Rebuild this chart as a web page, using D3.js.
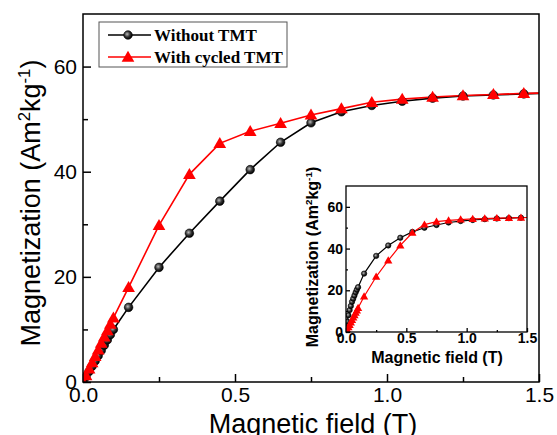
<!DOCTYPE html>
<html><head><meta charset="utf-8">
<script src="https://cdn.jsdelivr.net/npm/d3@7"></script>
<style>html,body{margin:0;padding:0;background:#fff;}svg{display:block;}</style>
</head><body>
<svg id="c" width="557" height="435"></svg>
<script>
// ---------- data ----------
const fieldMain = [0,0.01,0.02,0.03,0.04,0.05,0.06,0.07,0.08,0.09,0.1,0.15,0.25,0.35,0.45,0.55,0.65,0.75,0.85,0.95,1.05,1.15,1.25,1.35,1.45,1.55];
const withoutTMT = [0,1.0,2.0,3.0,4.0,5.0,6.0,7.0,8.0,9.0,10.0,14.2,21.8,28.3,34.4,40.4,45.6,49.3,51.4,52.6,53.4,54.0,54.4,54.6,54.8,55.0];
const withCycledTMT = [0,1.2,2.5,3.7,4.9,6.1,7.4,8.6,9.8,11.0,12.2,18.0,29.8,39.5,45.4,47.7,49.2,50.8,52.0,53.2,53.8,54.2,54.5,54.7,54.9,55.0];
const insetBlack = [0,5,8,10.5,12.5,14.5,16,17.5,19,20.3,21.5,28,36.5,41.5,45.2,48,50,51.3,52.5,53.2,53.7,54.1,54.4,54.6,54.8,55.0];
const insetRed = [0,1.1,2.3,3.4,4.6,5.7,6.9,8.0,9.2,10.3,11.5,17,26.5,34.3,41.5,47.6,51.5,52.9,53.5,53.9,54.2,54.4,54.6,54.7,54.8,55.0];
const xTicks = [0,0.5,1.0,1.5];
const xMinor = [0.25,0.75,1.25];
const yTicks = [0,20,40,60];
const yMinor = [10,30,50];
const legendLabels = ["Without TMT","With cycled TMT"];

const svg = d3.select("#c");
const defs = svg.append("defs");
const grad = defs.append("radialGradient").attr("id","ball").attr("cx","40%").attr("cy","40%").attr("r","60%");
grad.append("stop").attr("offset","0%").attr("stop-color","#bbbbbb");
grad.append("stop").attr("offset","55%").attr("stop-color","#333");
grad.append("stop").attr("offset","100%").attr("stop-color","#000");

function panel(cfg){
  const x = d3.scaleLinear().domain([0,1.5]).range([cfg.x0,cfg.x1]);
  const y = d3.scaleLinear().domain([0,70]).range([cfg.y0,cfg.y1]);
  const g = svg.append("g");
  const cid = "clip"+cfg.id;
  defs.append("clipPath").attr("id",cid).append("rect")
    .attr("x",cfg.x0).attr("y",cfg.y1).attr("width",cfg.x1-cfg.x0).attr("height",cfg.y0-cfg.y1);
  if(cfg.bg) g.append("rect").attr("x",cfg.x0).attr("y",cfg.y1).attr("width",cfg.x1-cfg.x0).attr("height",cfg.y0-cfg.y1).attr("fill","#fff");
  // axes
  const ax = g.append("g").attr("transform",`translate(0,${cfg.y0})`)
    .call(d3.axisBottom(x).tickValues(xTicks).tickFormat(d3.format(".1f")).tickSizeInner(-cfg.tk).tickSizeOuter(0).tickPadding(cfg.xpad));
  const axm = g.append("g").attr("transform",`translate(0,${cfg.y0})`)
    .call(d3.axisBottom(x).tickValues(xMinor).tickFormat("").tickSizeInner(-cfg.tkm).tickSizeOuter(0));
  const ay = g.append("g").attr("transform",`translate(${cfg.x0},0)`)
    .call(d3.axisLeft(y).tickValues(yTicks).tickFormat(d3.format("d")).tickSizeInner(-cfg.tk).tickSizeOuter(0).tickPadding(cfg.ypad));
  const aym = g.append("g").attr("transform",`translate(${cfg.x0},0)`)
    .call(d3.axisLeft(y).tickValues(yMinor).tickFormat("").tickSizeInner(-cfg.tkm).tickSizeOuter(0));
  [ax,axm,ay,aym].forEach(a=>{
    a.select(".domain").remove();
    a.selectAll("line").attr("stroke","#000").attr("stroke-width",cfg.sw);
    a.selectAll("text").attr("fill","#000").attr("font-family","Liberation Sans, Arial, sans-serif")
      .attr("font-size",cfg.fs).attr("font-weight",cfg.fw);
  });
  // lines
  const line = d3.line().x((d,i)=>x(fieldMain[i])).y(d=>y(d));
  const dg = g.append("g").attr("clip-path",`url(#${cid})`);
  cfg.series.forEach(s=>{
    dg.append("path").datum(s.vals).attr("d",line).attr("fill","none").attr("stroke",s.color).attr("stroke-width",cfg.lw);
  });
  cfg.series.forEach(s=>{
    if(s.shape==="circle"){
      dg.selectAll(null).data(s.vals).enter().append("circle")
        .attr("cx",(d,i)=>x(fieldMain[i])).attr("cy",d=>y(d)).attr("r",cfg.r)
        .attr("fill","url(#ball)").attr("stroke","#000").attr("stroke-width",0.6);
    } else {
      const sym = d3.symbol().type(d3.symbolTriangle).size(cfg.tri);
      dg.selectAll(null).data(s.vals).enter().append("path")
        .attr("d",sym).attr("transform",(d,i)=>`translate(${x(fieldMain[i])},${y(d)+cfg.triOff})`)
        .attr("fill","#ff0000");
    }
  });
  // frame
  g.append("rect").attr("x",cfg.x0).attr("y",cfg.y1).attr("width",cfg.x1-cfg.x0).attr("height",cfg.y0-cfg.y1)
    .attr("fill","none").attr("stroke","#000").attr("stroke-width",cfg.sw);
  // titles
  g.append("text").attr("x",cfg.xtx).attr("y",cfg.xty).attr("text-anchor","middle")
    .attr("font-family","Liberation Sans, Arial, sans-serif").attr("font-size",cfg.tfs).attr("font-weight",cfg.fw)
    .text("Magnetic field (T)");
  const yt = g.append("text").attr("transform",`translate(${cfg.ytx},${cfg.yty}) rotate(-90)`).attr("text-anchor","middle")
    .attr("font-family","Liberation Sans, Arial, sans-serif").attr("font-size",cfg.tfs).attr("font-weight",cfg.fw);
  yt.append("tspan").text("Magnetization (Am");
  yt.append("tspan").attr("dy",-cfg.tfs*0.38).attr("font-size",cfg.tfs*0.62).text("2");
  yt.append("tspan").attr("dy",cfg.tfs*0.38).text("kg");
  yt.append("tspan").attr("dy",-cfg.tfs*0.38).attr("font-size",cfg.tfs*0.62).text("-1");
  yt.append("tspan").attr("dy",cfg.tfs*0.38).text(")");
  return g;
}

panel({id:"m",x0:83,x1:539,y0:382,y1:14,tk:8,tkm:5,sw:1.5,fs:21,fw:"normal",xpad:5,ypad:6,
  lw:1.6,r:4.3,tri:70,triOff:1,tfs:27,xtx:313,xty:433,ytx:40,yty:203,
  series:[{vals:withoutTMT,color:"#000",shape:"circle"},{vals:withCycledTMT,color:"#ff0000",shape:"tri"}]});

panel({id:"i",x0:346,x1:527,y0:332,y1:186,tk:4,tkm:2,sw:1.3,fs:14,fw:"bold",xpad:1,ypad:3,bg:true,
  lw:1.2,r:2.7,tri:30,triOff:0.6,tfs:16,xtx:437,xty:363,ytx:318,yty:257,
  series:[{vals:insetBlack,color:"#000",shape:"circle"},{vals:insetRed,color:"#ff0000",shape:"tri"}]});

// legend
const lg = svg.append("g");
lg.append("rect").attr("x",99).attr("y",22).attr("width",188).attr("height",45).attr("fill","#fff").attr("stroke","#555").attr("stroke-width",1);
const legRows = [{label:legendLabels[0],color:"#000",shape:"circle",y:35},{label:legendLabels[1],color:"#ff0000",shape:"tri",y:57}];
legRows.forEach(r=>{
  lg.append("line").attr("x1",108).attr("x2",151).attr("y1",r.y).attr("y2",r.y).attr("stroke",r.color).attr("stroke-width",1.6);
  if(r.shape==="circle") lg.append("circle").attr("cx",128).attr("cy",r.y).attr("r",4.3).attr("fill","url(#ball)").attr("stroke","#000").attr("stroke-width",0.6);
  else lg.append("path").attr("d",d3.symbol().type(d3.symbolTriangle).size(70)).attr("transform",`translate(128,${r.y+1})`).attr("fill","#ff0000");
  lg.append("text").attr("x",154).attr("y",r.y+6).attr("font-family","Liberation Serif, Times New Roman, serif")
    .attr("font-weight","bold").attr("font-size",17).text(r.label);
});
</script>
</body></html>
